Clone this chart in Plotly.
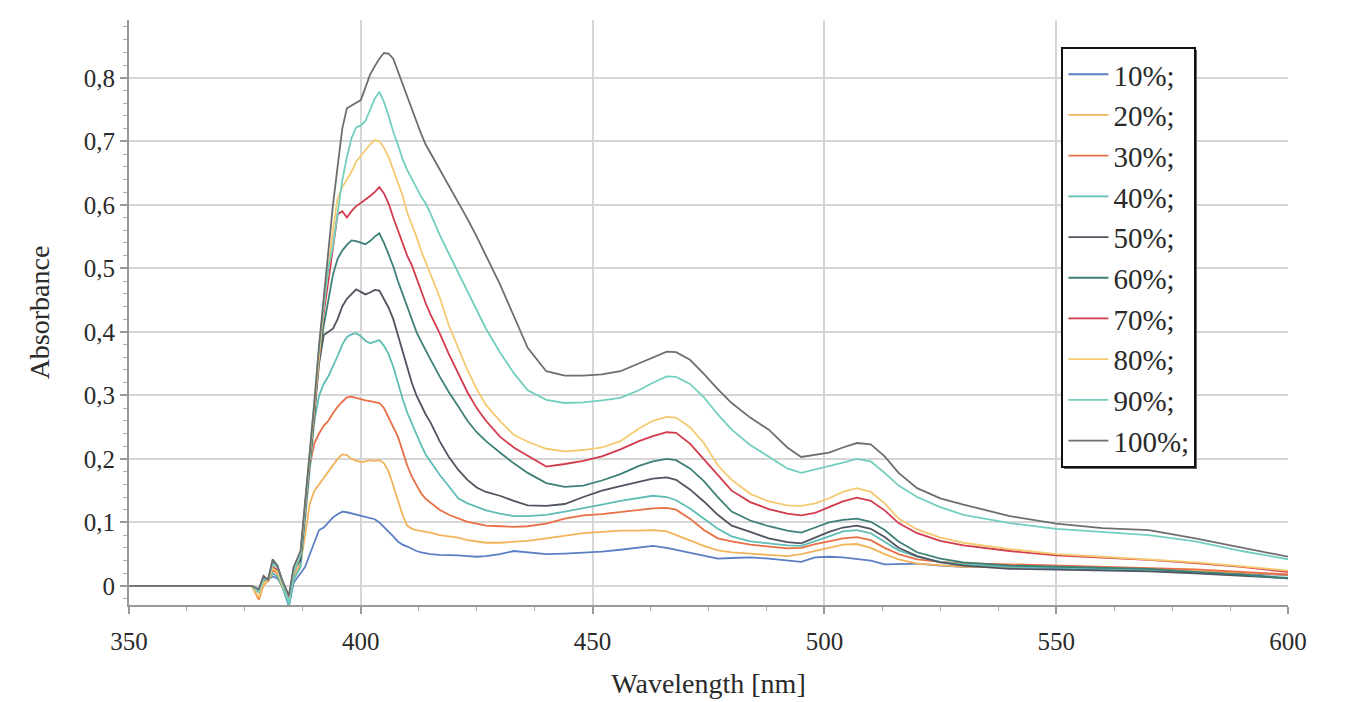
import plotly.graph_objects as go

# Wavelength grid (nm)
WL = [350, 376.5, 378, 379, 380, 381, 382, 383, 384.5, 385.5, 387,
      388, 389, 390, 391, 392, 393, 394, 395, 396, 397, 398, 399, 400, 401, 402, 403, 404, 405,
      406, 407, 408, 409, 410, 411, 412, 413, 414, 415, 417, 419, 421, 423, 425, 427,
      430, 433, 436, 440, 444, 448, 452, 456, 460, 463, 466, 468, 471, 474, 477, 480,
      484, 488, 492, 495, 498, 501, 504, 507, 510, 513, 516, 520, 525, 530,
      540, 550, 560, 570, 580, 590, 600]

LABELS = ["10%;", "20%;", "30%;", "40%;", "50%;", "60%;", "70%;", "80%;", "90%;", "100%;"]
COLORS = ["#5b7fc4", "#f2b35a", "#e86f45", "#5fbdb5", "#4f5560",
          "#3d8078", "#d23a4e", "#f5c96e", "#72cfc0", "#6e6e6e"]

A10 = [0, 0, -0.008, 0.005, 0.01, 0.015, 0.012, 0.0, -0.032, 0.005, 0.02,
       0.03, 0.05, 0.068, 0.088, 0.092, 0.1, 0.108, 0.113, 0.117, 0.116, 0.114, 0.113, 0.11, 0.108, 0.106, 0.105, 0.1, 0.093,
       0.086, 0.078, 0.07, 0.065, 0.062, 0.058, 0.055, 0.053, 0.051, 0.05, 0.049, 0.049, 0.048, 0.047, 0.046, 0.047,
       0.05, 0.055, 0.053, 0.05, 0.051, 0.052, 0.054, 0.057, 0.061, 0.063, 0.06, 0.057, 0.052, 0.047, 0.043, 0.044,
       0.045, 0.043, 0.04, 0.038, 0.045, 0.046, 0.045, 0.043, 0.04, 0.034, 0.034, 0.035, 0.032, 0.03,
       0.03, 0.028, 0.027, 0.025, 0.023, 0.02, 0.017]
A20 = [0, 0, -0.022, 0.0, 0.008, 0.02, 0.015, 0.0, -0.025, 0.015, 0.035,
       0.08, 0.13, 0.15, 0.16, 0.17, 0.18, 0.19, 0.2, 0.207, 0.206, 0.2, 0.197, 0.195, 0.196, 0.198, 0.197, 0.198, 0.193,
       0.18, 0.158, 0.135, 0.112, 0.095, 0.09, 0.088, 0.086, 0.085, 0.084, 0.08, 0.078, 0.076, 0.072, 0.07, 0.068,
       0.068, 0.07, 0.071, 0.075, 0.079, 0.083, 0.085, 0.087, 0.087, 0.088, 0.086, 0.08, 0.072, 0.063, 0.056, 0.053,
       0.051, 0.049, 0.047, 0.05, 0.055, 0.06, 0.065, 0.066, 0.06, 0.05, 0.042, 0.035, 0.032, 0.03,
       0.03, 0.03, 0.028, 0.026, 0.024, 0.021, 0.018]
A30 = [0, 0, -0.02, 0.005, 0.008, 0.025, 0.02, 0.002, -0.022, 0.02, 0.045,
       0.11, 0.19, 0.225, 0.24, 0.252, 0.26, 0.272, 0.282, 0.29, 0.297, 0.298, 0.296, 0.293, 0.292, 0.291, 0.289, 0.288, 0.28,
       0.265, 0.25, 0.235, 0.213, 0.19, 0.172, 0.158, 0.146, 0.137, 0.131, 0.12, 0.112, 0.106, 0.101, 0.098, 0.095,
       0.094, 0.093, 0.094, 0.098, 0.106, 0.111, 0.113, 0.116, 0.119, 0.122, 0.123, 0.12, 0.106, 0.088, 0.075, 0.07,
       0.065, 0.062, 0.059, 0.06, 0.066, 0.07, 0.075, 0.077, 0.072, 0.06, 0.05, 0.042, 0.038, 0.036,
       0.034, 0.033, 0.031, 0.029, 0.026, 0.022, 0.018]
A40 = [0, 0, -0.01, 0.008, 0.01, 0.02, 0.015, 0.0, -0.03, 0.01, 0.03,
       0.11, 0.19, 0.26, 0.3, 0.318, 0.33, 0.345, 0.362, 0.38, 0.392, 0.396, 0.398, 0.393, 0.386, 0.382, 0.385, 0.387, 0.378,
       0.365, 0.345, 0.318, 0.295, 0.273, 0.255, 0.24, 0.222, 0.207, 0.196, 0.175, 0.157, 0.138, 0.13, 0.124, 0.119,
       0.114, 0.11, 0.11, 0.112, 0.117, 0.122, 0.128, 0.134, 0.139, 0.142, 0.14, 0.135, 0.122, 0.106, 0.09, 0.078,
       0.07, 0.067, 0.064, 0.063, 0.07, 0.078, 0.086, 0.088, 0.083, 0.07, 0.056, 0.046, 0.038, 0.034,
       0.03, 0.029, 0.027, 0.025, 0.021, 0.017, 0.013]
A50 = [0, 0, -0.008, 0.012, 0.01, 0.035, 0.03, 0.008, -0.02, 0.025, 0.04,
       0.12, 0.2, 0.27, 0.35, 0.395, 0.4, 0.405, 0.42, 0.44, 0.452, 0.46, 0.467, 0.463, 0.459, 0.462, 0.466, 0.465, 0.452,
       0.438, 0.42, 0.395, 0.37, 0.343, 0.32, 0.3, 0.284, 0.27, 0.258, 0.228, 0.203, 0.183, 0.167, 0.155, 0.148,
       0.142, 0.134, 0.127, 0.126, 0.129, 0.14, 0.15, 0.157, 0.164, 0.169, 0.171, 0.167, 0.152, 0.133, 0.112, 0.095,
       0.085, 0.075, 0.069, 0.067, 0.076, 0.085, 0.092, 0.095, 0.09, 0.077, 0.06, 0.047, 0.037, 0.032,
       0.027, 0.026, 0.025, 0.023, 0.02, 0.016, 0.012]
A60 = [0, 0, -0.008, 0.012, 0.01, 0.04, 0.032, 0.008, -0.02, 0.025, 0.045,
       0.12, 0.2, 0.275, 0.36, 0.41, 0.45, 0.49, 0.515, 0.528, 0.537, 0.544, 0.543, 0.54, 0.538, 0.543, 0.55, 0.555, 0.54,
       0.522, 0.503, 0.48, 0.46, 0.438, 0.418, 0.4, 0.385, 0.37, 0.357, 0.33, 0.305, 0.283, 0.26, 0.242, 0.228,
       0.21, 0.193, 0.178, 0.162, 0.156, 0.158, 0.166, 0.176, 0.189, 0.196, 0.2, 0.198, 0.185, 0.165, 0.14, 0.117,
       0.103, 0.094, 0.087, 0.084, 0.092, 0.1, 0.104, 0.106, 0.101, 0.088, 0.07, 0.053, 0.043, 0.037,
       0.032, 0.03, 0.029, 0.027, 0.022, 0.018, 0.012]
A70 = [0, 0, -0.01, 0.01, 0.008, 0.03, 0.025, 0.005, -0.02, 0.02, 0.05,
       0.125, 0.205, 0.28, 0.365, 0.43, 0.48, 0.53, 0.585, 0.59, 0.58, 0.59, 0.598, 0.603, 0.608, 0.614, 0.62, 0.628, 0.618,
       0.602, 0.58, 0.56, 0.538, 0.52, 0.505, 0.484, 0.465, 0.445, 0.428, 0.398, 0.365, 0.335, 0.305, 0.28, 0.26,
       0.235, 0.218, 0.205, 0.188, 0.192, 0.197, 0.204, 0.215, 0.228, 0.236, 0.242, 0.241, 0.224, 0.2, 0.175, 0.15,
       0.132, 0.121, 0.114, 0.111, 0.115, 0.124, 0.133, 0.139, 0.134, 0.119, 0.099, 0.083, 0.071, 0.064,
       0.055, 0.048, 0.045, 0.041, 0.036, 0.03, 0.022]
A80 = [0, 0, -0.018, 0.005, 0.008, 0.028, 0.022, 0.004, -0.024, 0.02, 0.05,
       0.125, 0.205, 0.28, 0.37, 0.44, 0.5, 0.56, 0.61, 0.628, 0.64, 0.652, 0.668, 0.678, 0.686, 0.695, 0.702, 0.7, 0.69,
       0.675, 0.655, 0.638, 0.615, 0.588, 0.57, 0.55, 0.528, 0.51, 0.49, 0.455, 0.41, 0.375, 0.34, 0.31, 0.285,
       0.26, 0.238, 0.227, 0.216, 0.212, 0.214, 0.218, 0.228, 0.248, 0.26, 0.266, 0.265, 0.25, 0.225, 0.19, 0.167,
       0.145, 0.133, 0.127, 0.126, 0.13, 0.138, 0.148, 0.154, 0.148, 0.13, 0.106, 0.089, 0.076, 0.068,
       0.058, 0.05, 0.046, 0.042, 0.037, 0.031, 0.024]
A90 = [0, 0, -0.01, 0.01, 0.01, 0.035, 0.03, 0.006, -0.026, 0.02, 0.05,
       0.13, 0.21, 0.285, 0.375, 0.44, 0.5, 0.535, 0.585, 0.638, 0.675, 0.705, 0.722, 0.725, 0.732, 0.75, 0.767, 0.778, 0.762,
       0.74, 0.715, 0.695, 0.672, 0.655, 0.64, 0.627, 0.613, 0.602, 0.587, 0.553, 0.523, 0.493, 0.463, 0.433, 0.405,
       0.368, 0.335, 0.308, 0.293, 0.288, 0.289, 0.292, 0.296, 0.308, 0.32, 0.33, 0.329, 0.318, 0.297, 0.27, 0.246,
       0.222, 0.204, 0.185, 0.178, 0.183, 0.189, 0.194, 0.2, 0.196, 0.178, 0.158, 0.14, 0.124, 0.112,
       0.099, 0.09, 0.085, 0.08, 0.07, 0.055, 0.042]
A100 = [0, 0, -0.005, 0.016, 0.01, 0.042, 0.032, 0.01, -0.015, 0.03, 0.055,
        0.13, 0.21, 0.29, 0.38, 0.455, 0.53, 0.6, 0.66, 0.72, 0.752, 0.756, 0.76, 0.765, 0.785, 0.805, 0.818, 0.83, 0.839,
        0.838, 0.83, 0.81, 0.792, 0.77, 0.752, 0.73, 0.712, 0.695, 0.682, 0.658, 0.632, 0.605, 0.578, 0.55, 0.52,
        0.475, 0.425, 0.375, 0.338, 0.331, 0.331, 0.333, 0.338, 0.35, 0.36, 0.369, 0.368, 0.356, 0.334, 0.31, 0.288,
        0.265, 0.246, 0.218, 0.203, 0.206, 0.21, 0.218, 0.225, 0.223, 0.204, 0.178, 0.154, 0.138, 0.128,
        0.11, 0.098, 0.091, 0.088, 0.075, 0.06, 0.046]

SERIES = [A10, A20, A30, A40, A50, A60, A70, A80, A90, A100]

FONT = "Liberation Serif"
TXT = "#2a2a2a"

fig = go.Figure()
for name, color, ys in zip(LABELS, COLORS, SERIES):
    fig.add_trace(go.Scatter(x=WL, y=ys, mode="lines", name=name,
                             line=dict(color=color, width=1.8)))

axis_common = dict(
    showline=True, linecolor="#999999", linewidth=2,
    ticks="outside", tickcolor="#999999", tickwidth=1.5, ticklen=7,
    showgrid=True, gridcolor="#d6d6d6", gridwidth=2,
    zeroline=False,
    tickfont=dict(family=FONT, size=25, color=TXT),
    minor=dict(ticks="outside", ticklen=4, tickcolor="#aaaaaa", tickwidth=1, showgrid=False),
)

# legend drop shadow (drawn beneath the legend box)
fig.add_shape(type="rect", xref="paper", yref="paper",
              x0=0.8067, x1=0.9215, y0=0.2325, y1=0.9487,
              line=dict(width=0), fillcolor="#666666", layer="above")

fig.update_layout(
    width=1347, height=702,
    margin=dict(l=121, r=67, t=12, b=105),
    paper_bgcolor="white", plot_bgcolor="white",
    separators=", ",
    font=dict(family=FONT, size=25, color=TXT),
    xaxis=dict(range=[350, 600], tick0=350, dtick=50, ticklabelstandoff=6,
               title=dict(text="Wavelength [nm]", font=dict(family=FONT, size=28, color=TXT), standoff=19),
               **axis_common),
    yaxis=dict(range=[-0.03, 0.891], tick0=0, dtick=0.1,
               title=dict(text="Absorbance", font=dict(family=FONT, size=28, color=TXT), standoff=26),
               **axis_common),
    legend=dict(x=0.8045, y=0.954, xanchor="left", yanchor="top",
                bgcolor="white", bordercolor="#111111", borderwidth=2,
                font=dict(family=FONT, size=29, color=TXT),
                traceorder="normal", itemwidth=40),
)
fig.update_xaxes(minor_dtick=12.5)
fig.update_yaxes(minor_dtick=0.02)

fig.write_html("out.html")
